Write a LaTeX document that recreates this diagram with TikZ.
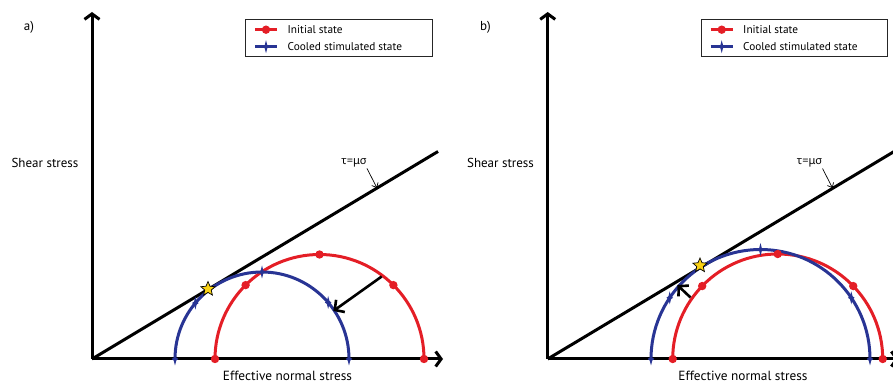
\documentclass[tikz,border=0pt]{standalone}
\usepackage{fontspec}
\setmainfont{PT Sans}
\newfontfamily\greekfont{Noto Sans}
\usetikzlibrary{arrows.meta,shapes.geometric}
\definecolor{mred}{RGB}{228,30,38}
\definecolor{mblue}{RGB}{40,52,148}
\definecolor{mstar}{RGB}{250,210,20}
\tikzset{
  axis/.style={line width=3pt, -{Straight Barb[length=5.5pt,width=15pt]}},
  envelope/.style={line width=3pt},
  redarc/.style={mred, line width=3pt},
  bluearc/.style={mblue, line width=3pt},
  shiftarrow/.style={line width=2.6pt, -{Straight Barb[length=7pt,width=15pt]}},
  thinarrow/.style={line width=0.7pt, -{Straight Barb[length=4pt,width=7pt]}},
  rmark/.pic={\fill[mred] (0,0) circle[radius=4.2];},
  bmark/.pic={\fill[mblue] (0,6.5) -- (1.3,1.5) -- (3.3,0) -- (1.3,-1.5) -- (0,-6.5) -- (-1.3,-1.5) -- (-3.3,0) -- (-1.3,1.5) -- cycle;},
  failstar/.style={star, star points=5, star point ratio=2.2, fill=mstar, draw=black, line width=0.7pt, minimum size=15pt, inner sep=0pt},
  lab/.style={font=\fontsize{13}{15}\selectfont, inner sep=0pt},
  xlab/.style={font=\fontsize{13.3}{15}\selectfont, inner sep=0pt},
  leglab/.style={font=\fontsize{11.3}{13}\selectfont, inner sep=0pt, anchor=west},
  legbox/.style={draw=black!85, line width=0.9pt}
}
\begin{document}
\begin{tikzpicture}[x=1pt,y=1pt]
\useasboundingbox (0,0) rectangle (893,385);
\clip (0,0) rectangle (893,385);
% ================= panel a =================
\coordinate (Oa) at (92,26);
\coordinate (Ya) at (92,373);
\coordinate (Xa) at (443,26);
\coordinate (La) at (438,233.5);
\coordinate (cRa) at (319.5,26);
\coordinate (cBa) at (262,26);
\node[lab] (pa) at (29,358) {a)};
\node[lab] (sha) at (45,222) {Shear stress};
\node[xlab] (ena) at (287.5,9) {Effective normal stress};
\draw[axis] (Oa) -- (Ya);
\draw[envelope] (Oa) -- (La);
\draw[redarc] ([shift={(0:104.5)}]cRa) arc[start angle=0,end angle=180,radius=104.5];
\draw[bluearc] ([shift={(0:87)}]cBa) arc[start angle=0,end angle=180,radius=87];
\draw[axis] (Oa) -- (Xa);
\foreach \a in {0,45,90,135,180} \pic at ([shift={(\a:104.5)}]cRa) {rmark};
\foreach \a in {0,40.5,90,140,180} \pic at ([shift={(\a:87)}]cBa) {bmark};
\coordinate (a1) at (381.7,108.5);
\coordinate (a2) at (333.3,74);
\draw[shiftarrow] (a1) -- (a2);
\node[failstar] (sta) at (208,96) {};
\node[font=\greekfont\fontsize{11}{13}\selectfont, inner sep=0pt] (tla) at (354,222) {τ=μσ};
\coordinate (tta) at (377,197);
\draw[thinarrow] (367,216.5) -- (tta);
% legend a
\node[legbox, minimum width=186.3pt, minimum height=37pt, inner sep=0pt] (lga) at (338.85,347.5) {};
\draw[mred, line width=3pt] (255,355.3) -- (277,355.3);
\pic at (266,355.3) {rmark};
\draw[mblue, line width=3pt] (255,338.3) -- (277,338.3);
\pic at (266,338.3) {bmark};
\node[leglab] (l1a) at (287.5,355.5) {Initial state};
\node[leglab] (l2a) at (287.5,338.5) {Cooled stimulated state};
% ================= panel b =================
\coordinate (Ob) at (547.7,26);
\coordinate (Yb) at (547.7,373);
\coordinate (Xb) at (898.7,26);
\coordinate (Lb) at (900,237);
\coordinate (cRb) at (777.7,26);
\coordinate (cBb) at (760.5,26);
\node[lab] (pb) at (485.5,358) {b)};
\node[lab] (shb) at (500.5,222) {Shear stress};
\node[xlab] (enb) at (743,9) {Effective normal stress};
\draw[axis] (Ob) -- (Yb);
\draw[envelope] (Ob) -- (Lb);
\draw[redarc] ([shift={(0:105)}]cRb) arc[start angle=0,end angle=180,radius=105];
\draw[bluearc] ([shift={(0:109.5)}]cBb) arc[start angle=0,end angle=180,radius=109.5];
\draw[axis] (Ob) -- (Xb);
\foreach \a in {0,44,90,136,180} \pic at ([shift={(\a:105)}]cRb) {rmark};
\foreach \a in {0,34,90,146,180} \pic at ([shift={(\a:109.5)}]cBb) {bmark};
\coordinate (b1) at (690.5,87.5);
\coordinate (b2) at (677.3,100);
\draw[shiftarrow] (b1) -- (b2);
\node[failstar] (stb) at (700,119.5) {};
\node[font=\greekfont\fontsize{11}{13}\selectfont, inner sep=0pt] (tlb) at (809.5,222) {τ=μσ};
\coordinate (ttb) at (832.5,197);
\draw[thinarrow] (822.5,216.5) -- (ttb);
% legend b
\node[legbox, minimum width=186pt, minimum height=37pt, inner sep=0pt] (lgb) at (794.3,347.5) {};
\draw[mred, line width=3pt] (710.7,355.3) -- (732.7,355.3);
\pic at (721.7,355.3) {rmark};
\draw[mblue, line width=3pt] (710.7,338.3) -- (732.7,338.3);
\pic at (721.7,338.3) {bmark};
\node[leglab] (l1b) at (743,355.5) {Initial state};
\node[leglab] (l2b) at (743,338.5) {Cooled stimulated state};
\end{tikzpicture}
\end{document}
